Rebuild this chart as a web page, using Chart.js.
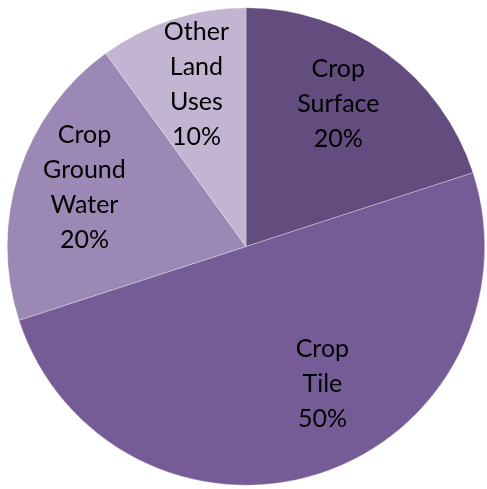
<!DOCTYPE html>
<html>
<head>
<meta charset="utf-8">
<script src="https://cdn.jsdelivr.net/npm/chart.js@4"></script>
<style>
  html, body { margin: 0; padding: 0; background: #fff; }
  #wrap { width: 487px; height: 489px; }
</style>
</head>
<body>
<div id="wrap"><canvas id="pie"></canvas></div>
<script>
// pie slices, clockwise from 12 o'clock
const categories = [['Crop', 'Surface'], ['Crop', 'Tile'], ['Crop', 'Ground', 'Water'], ['Other', 'Land', 'Uses']];
const shares = [20, 50, 20, 10];
const colors = ['#634C7E', '#765C96', '#9C88B4', '#C1B5D1'];

// label placement inside each slice: angle shift (deg) and radius fraction
const labelPlace = [
  { shift: -3, r: 0.71 },
  { shift: -11, r: 0.66 },
  { shift: 2, r: 0.72 },
  { shift: 1, r: 0.71 }
];

const sliceLabels = {
  id: 'sliceLabels',
  afterDatasetsDraw(chart) {
    const ctx = chart.ctx;
    const meta = chart.getDatasetMeta(0);
    ctx.save();
    ctx.font = '25px Lato, "Open Sans", sans-serif';
    ctx.fillStyle = '#000';
    ctx.textAlign = 'center';
    ctx.textBaseline = 'middle';
    const lineH = 35;
    meta.data.forEach((arc, i) => {
      const p = arc.getProps(['x', 'y', 'startAngle', 'endAngle', 'outerRadius']);
      const mid = (p.startAngle + p.endAngle) / 2 + labelPlace[i].shift * Math.PI / 180;
      const r = p.outerRadius * labelPlace[i].r;
      const cx = p.x + Math.cos(mid) * r;
      const cy = p.y + Math.sin(mid) * r;
      const lines = categories[i].concat([shares[i] + '%']);
      const top = cy - (lines.length - 1) * lineH / 2;
      lines.forEach((t, k) => ctx.fillText(t, cx, top + k * lineH));
    });
    ctx.restore();
  }
};

new Chart(document.getElementById('pie'), {
  type: 'pie',
  data: {
    labels: categories.map(c => c.join(' ')),
    datasets: [{
      data: shares,
      backgroundColor: colors,
      borderColor: 'rgba(255,255,255,0.6)',
      borderWidth: 0.5
    }]
  },
  options: {
    animation: false,
    responsive: true,
    maintainAspectRatio: false,
    layout: { padding: { left: 7, right: 2, top: 7, bottom: 3 } },
    plugins: { legend: { display: false }, tooltip: { enabled: false } }
  },
  plugins: [sliceLabels]
});
</script>
</body>
</html>
